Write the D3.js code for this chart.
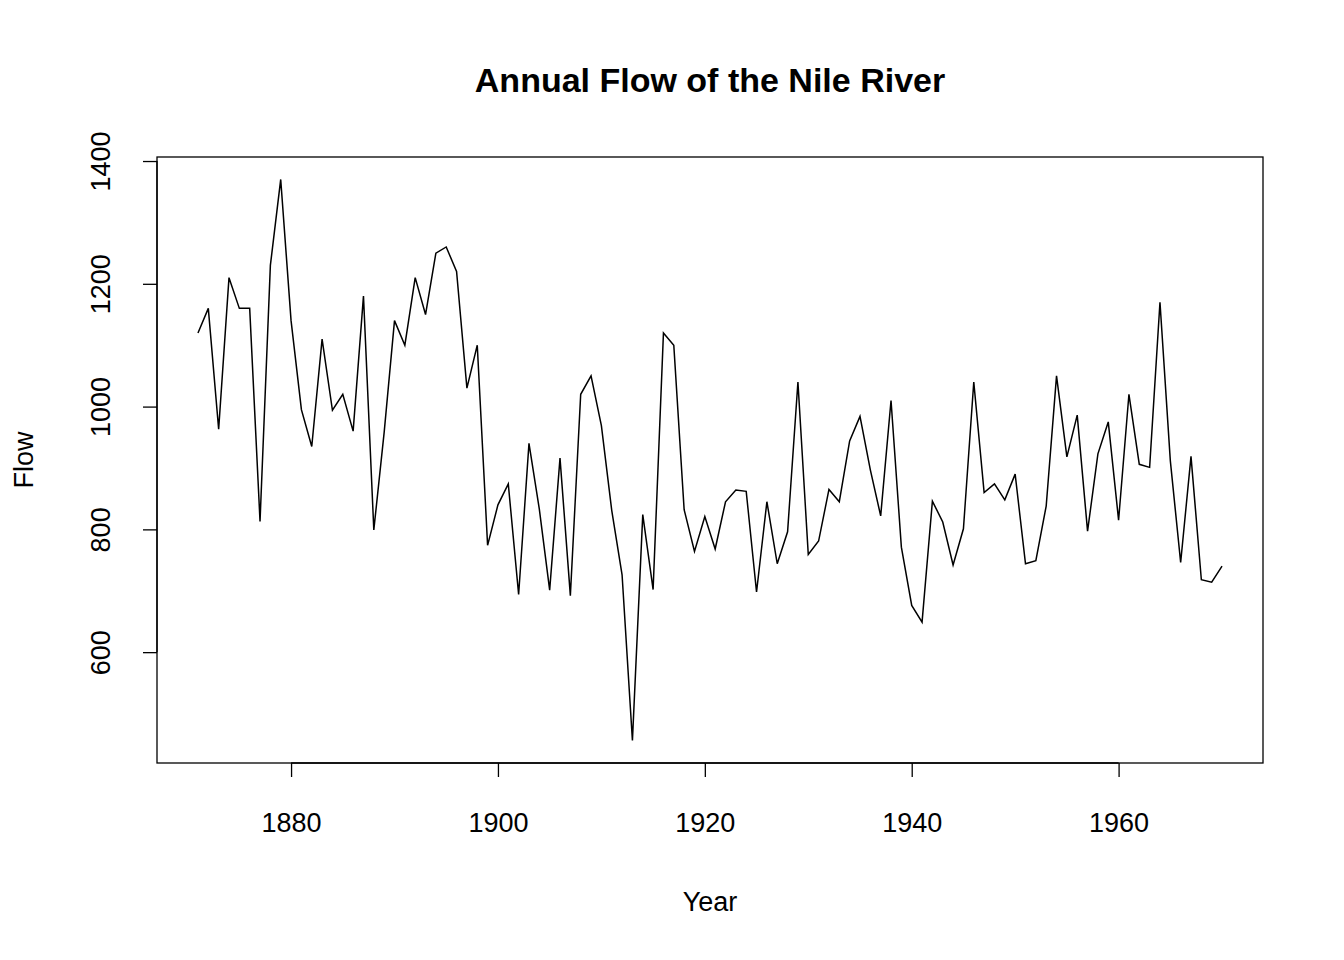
<!DOCTYPE html>
<html><head><meta charset="utf-8">
<script src="https://cdn.jsdelivr.net/npm/d3@7"></script>
<style>body{margin:0;background:#fff}text{font-family:"Liberation Sans",Arial,sans-serif;fill:#000}</style>
</head><body><svg id="c" width="1344" height="960"></svg>
<script>
var startYear = 1871;
var flow = [1120,1160,963,1210,1160,1160,813,1230,1370,1140,995,935,1110,994,1020,960,1180,799,958,1140,
  1100,1210,1150,1250,1260,1220,1030,1100,774,840,874,694,940,833,701,916,692,1020,1050,969,
  831,726,456,824,702,1120,1100,832,764,821,768,845,864,862,698,845,744,796,1040,759,
  781,865,845,944,984,897,822,1010,771,676,649,846,812,742,801,1040,860,874,848,890,
  744,749,838,1050,918,986,797,923,975,815,1020,906,901,1170,912,746,919,718,714,740];
var xTicks = [1880,1900,1920,1940,1960];
var yTicks = [600,800,1000,1200,1400];

var data = flow.map(function(v,i){ return {year: startYear+i, v: v}; });
var svg = d3.select("#c");
var L=157, R=1263, T=157, B=763;
var x0=startYear, x1=startYear+flow.length-1, xe=(x1-x0)*0.04;
var y0=d3.min(flow), y1=d3.max(flow), ye=(y1-y0)*0.04;
var x = d3.scaleLinear().domain([x0-xe,x1+xe]).range([L,R]);
var y = d3.scaleLinear().domain([y0-ye,y1+ye]).range([B,T]);

svg.append("rect").attr("x",L).attr("y",T).attr("width",R-L).attr("height",B-T)
  .attr("fill","none").attr("stroke","#000").attr("stroke-width",1.3);

svg.append("path").datum(data)
  .attr("d", d3.line().x(function(d){return x(d.year);}).y(function(d){return y(d.v);}))
  .attr("fill","none").attr("stroke","#000").attr("stroke-width",1.5);

var xa = svg.append("g").attr("transform","translate(0,"+B+")")
  .call(d3.axisBottom(x).tickValues(xTicks).tickSize(14).tickPadding(36).tickFormat(d3.format("d")));
xa.select(".domain").attr("d","M"+x(xTicks[0])+",0H"+x(xTicks[xTicks.length-1]));
var ya = svg.append("g").attr("transform","translate("+L+",0)")
  .call(d3.axisLeft(y).tickValues(yTicks).tickSize(14).tickFormat(d3.format("d")));
ya.select(".domain").attr("d","M0,"+y(yTicks[0])+"V"+y(yTicks[yTicks.length-1]));
ya.selectAll(".tick text").attr("transform","rotate(-90)").attr("x",0).attr("y",-56)
  .attr("dy","0.35em").attr("text-anchor","middle");
svg.selectAll(".domain, .tick line").attr("stroke","#000").attr("stroke-width",1.3);
svg.selectAll(".tick text").attr("font-size",27).attr("font-family","Liberation Sans, Arial, sans-serif");

svg.append("text").attr("x",710).attr("y",92).attr("text-anchor","middle")
  .attr("font-size",34).attr("font-weight","bold").text("Annual Flow of the Nile River");
svg.append("text").attr("x",710).attr("y",911).attr("text-anchor","middle")
  .attr("font-size",27).text("Year");
svg.append("text").attr("transform","translate(33,460) rotate(-90)").attr("text-anchor","middle")
  .attr("font-size",27).text("Flow");
</script></body></html>
